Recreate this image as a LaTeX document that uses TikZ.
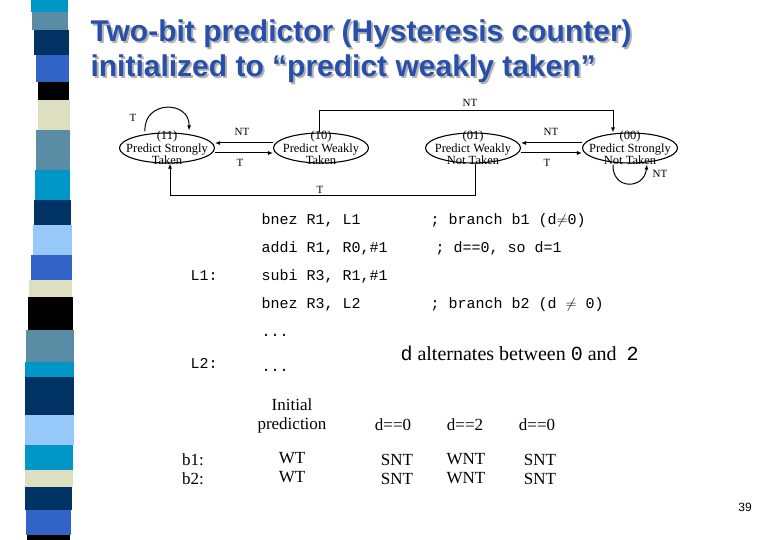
\documentclass[tikz,border=0pt]{standalone}
\usepackage{fontspec}
\setmainfont{Liberation Serif}
\setmonofont{Liberation Mono}
\newfontfamily\titlefont{Liberation Sans}
\usetikzlibrary{shapes.geometric,arrows.meta}
\definecolor{cA}{RGB}{0,150,200}
\definecolor{cB}{RGB}{90,140,165}
\definecolor{cC}{RGB}{0,50,100}
\definecolor{cD}{RGB}{50,100,200}
\definecolor{cE}{RGB}{0,0,0}
\definecolor{cF}{RGB}{222,222,192}
\definecolor{cG}{RGB}{150,200,250}
\definecolor{ttl}{RGB}{40,80,170}
\tikzset{st/.style={ellipse,draw,line width=1.1pt,minimum width=95pt,minimum height=30pt,inner sep=0pt},
sttext/.style={align=center,inner sep=0pt,font=\fontsize{12.5}{9.5}\selectfont},
ar/.style={-{Latex[length=5pt,width=4pt]},line width=1pt},
lb/.style={font=\fontsize{11}{11}\selectfont},
ttx/.style={anchor=base west,font=\titlefont\bfseries\fontsize{30}{30}\selectfont},
code/.style={anchor=base west,font=\ttfamily\fontsize{15}{15}\selectfont},
tb/.style={align=center,font=\fontsize{17}{19}\selectfont}}
\begin{document}
\begin{tikzpicture}[x=1pt,y=-1pt]
\useasboundingbox (0,0) rectangle (780,540);
\foreach \a/\b/\c/\l/\r in {0/12/cA/31/68,12/30/cB/32/68,30/55/cC/34/69,55/82/cD/36/69,82/100/cE/38/69,100/130/cF/38/70,130/170/cB/36/70,170/200/cA/35/70,200/225/cC/34/71,225/255/cG/33/72,255/280/cD/31/72,280/297/cF/29/72,297/330/cE/28/73,330/362/cB/26/74,362/377/cA/25/74,377/415/cC/25/74,415/445/cG/25/74,445/470/cA/25/73,470/487/cF/25/73,487/510/cC/25/72,510/535/cD/26/71,535/540/cE/27/70}
  \fill[\c] (\l,\a) rectangle (\r,\b);
\node[ttx,text=gray!60] at (89,44) {Two-bit predictor (Hysteresis counter)};
\node[ttx,text=gray!60] at (89,79) {initialized to “predict weakly taken”};
\node[ttx,text=ttl] (title1) at (87,42) {Two-bit predictor (Hysteresis counter)};
\node[ttx,text=ttl] (title2) at (87,77) {initialized to “predict weakly taken”};
\node[st] (s11) at (167,148) {};
\node[st] (s10) at (321,148) {};
\node[st] (s01) at (473,148) {};
\node[st] (s00) at (630,148) {};
\node[sttext] (x11) at (s11) {(11)\\Predict Strongly\\Taken};
\node[sttext] (x10) at (s10) {(10)\\Predict Weakly\\Taken};
\node[sttext] (x01) at (s01) {(01)\\Predict Weakly\\Not Taken};
\node[sttext] (x00) at (s00) {(00)\\Predict Strongly\\Not Taken};
\draw[ar] ([yshift=-5]s11.east) -- ([yshift=-5]s10.west);
\draw[ar] ([yshift=5]s10.west) -- ([yshift=5]s11.east);
\draw[ar] ([yshift=-5]s01.east) -- ([yshift=-5]s00.west);
\draw[ar] ([yshift=5]s00.west) -- ([yshift=5]s01.east);
\node[lb] at (242,132) {NT};
\node[lb] at (240,163) {T};
\node[lb] at (551,132) {NT};
\node[lb] at (547,163) {T};
\coordinate (t1) at (319,111);
\coordinate (t2) at (613,111);
\draw[ar] (s10.north -| t1) -- (t1) -- (t2) -- (s00.north -| t2);
\node[lb] at (470,103) {NT};
\coordinate (b1) at (475,196);
\coordinate (b2) at (170,196);
\draw[ar] (s01.south -| b1) -- (b1) -- (b2) -- (s11.south -| b2);
\node[lb] at (320,190) {T};
\draw[ar] ([xshift=-22,yshift=1]s11.north) .. controls (143,100) and (190,100) .. ([xshift=22,yshift=2]s11.north);
\node[lb] at (133,118) {T};
\draw[ar] ([xshift=-17,yshift=-1]s00.south) .. controls (612,190) and (644,190) .. ([xshift=17,yshift=-1]s00.south);
\node[lb] at (660,174) {NT};
\node[code] (c1) at (258,225) {bnez R1, L1};
\node[code] (c2) at (258,253) {addi R1, R0,\#1};
\node[code] (c3) at (258,281) {subi R3, R1,\#1};
\node[code] (c4) at (258,309) {bnez R3, L2};
\node[code] (c5) at (258,337) {...};
\node[code] (c6) at (258,372) {...};
\node[code] (k1) at (187,281) {L1:};
\node[code] (k2) at (187,369) {L2:};
\node[code] (m1) at (427,225) {; branch b1 (d$\neq$0)};
\node[code] (m2) at (432,253) {; d==0, so d=1};
\node[code] (m4) at (427,309) {; branch b2 (d $\neq$ 0)};
\node[anchor=base west,font=\fontsize{20}{20}\selectfont] (alt) at (397,360) {\texttt{d} alternates between \texttt{0} and \ \texttt{2}};
\node[tb] (h0) at (292,416) {Initial\\prediction};
\node[tb] (h1) at (393,425) {d==0};
\node[tb] (h2) at (465,425) {d==2};
\node[tb] (h3) at (537,425) {d==0};
\node[tb] (r0) at (193,469) {b1:\\b2:};
\node[tb] (v0) at (292,468) {WT\\WT};
\node[tb] (v1) at (397,469) {SNT\\SNT};
\node[tb] (v2) at (466,469) {WNT\\WNT};
\node[tb] (v3) at (540,469) {SNT\\SNT};
\node[font=\titlefont\fontsize{12}{12}\selectfont] (pg) at (745,507) {39};
\end{tikzpicture}
\end{document}
